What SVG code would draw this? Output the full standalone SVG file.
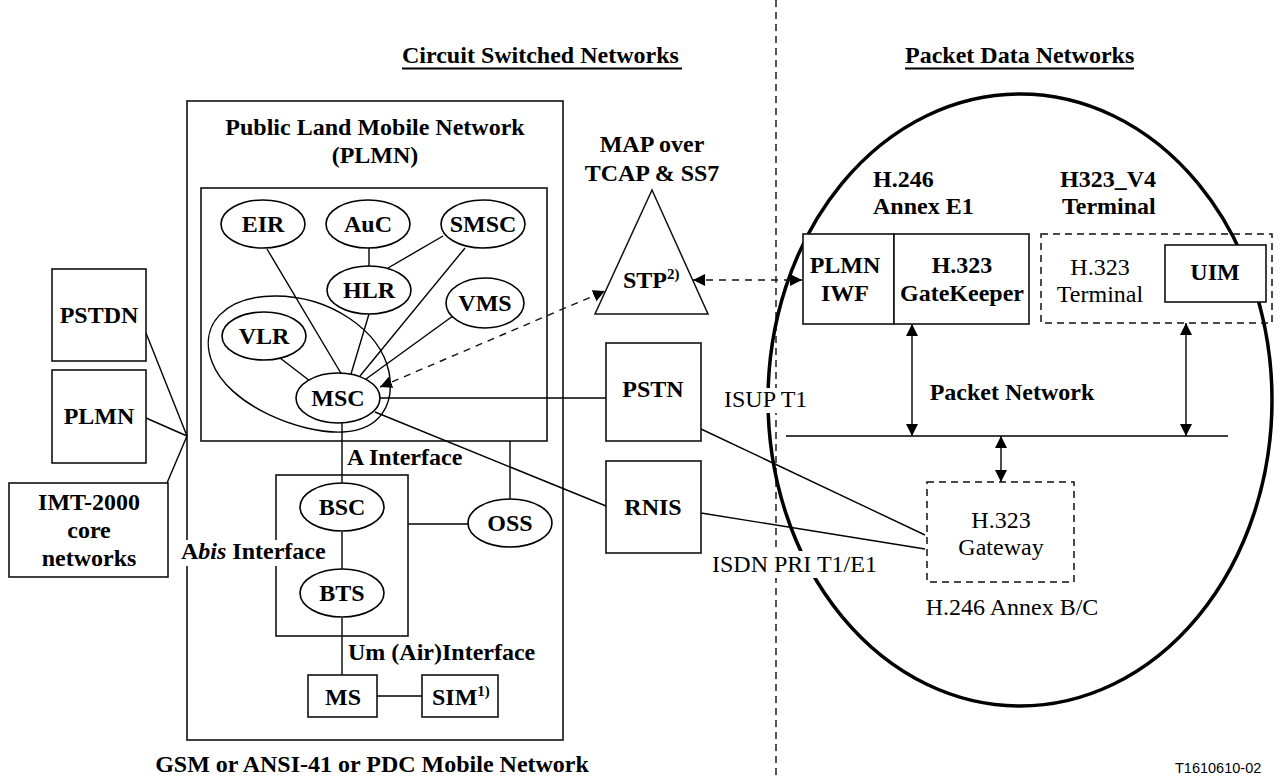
<svg xmlns="http://www.w3.org/2000/svg" width="1282" height="780" viewBox="0 0 1282 780">
<style>
text{font-family:"Liberation Serif","Times New Roman",serif;font-size:24px;fill:#000}
.b{font-weight:bold}
.m{text-anchor:middle}
.box{fill:none;stroke:#111;stroke-width:1.6}
.wbox{fill:#fff;stroke:#111;stroke-width:1.6}
.dbox{fill:none;stroke:#111;stroke-width:1.5;stroke-dasharray:7 5}
.ln{fill:none;stroke:#000;stroke-width:1.4}
.dl{fill:none;stroke:#111;stroke-width:1.4;stroke-dasharray:7 6}
.el{fill:#fff;stroke:#000;stroke-width:1.6}
</style>
<defs>
<marker id="ah" viewBox="0 0 12 12" refX="12" refY="6" markerWidth="12" markerHeight="12" markerUnits="userSpaceOnUse" orient="auto-start-reverse">
<path d="M0,0 L12,6 L0,12 Z" fill="#000"/>
</marker>
</defs>
<rect width="1282" height="780" fill="#fff"/>

<line x1="776" y1="0" x2="776" y2="780" stroke="#555" stroke-width="2" stroke-dasharray="7 5"/>

<text class="b" x="402" y="63">Circuit Switched Networks</text>
<line x1="402" y1="68.5" x2="682" y2="68.5" stroke="#000" stroke-width="2"/>
<text class="b" x="905" y="63">Packet Data Networks</text>
<line x1="905" y1="68.5" x2="1134" y2="68.5" stroke="#000" stroke-width="2"/>

<ellipse id="packet-cloud" cx="1020" cy="400" rx="252" ry="306" fill="none" stroke="#000" stroke-width="3.5"/>

<g id="plmn-outer">
<rect class="box" x="187" y="101" width="376" height="639"/>
<text class="b m" x="375" y="135">Public Land Mobile Network</text>
<text class="b m" x="375" y="163">(PLMN)</text>
</g>
<g id="core-box"><rect class="box" x="201" y="188" width="346" height="253"/></g>

<g id="connectors">
<line class="ln" x1="267" y1="249" x2="342" y2="375"/>
<line class="ln" x1="369" y1="248" x2="369" y2="266"/>
<line class="ln" x1="443" y1="236" x2="388" y2="268"/>
<line class="ln" x1="465" y1="248" x2="360" y2="376"/>
<line class="ln" x1="369" y1="314" x2="351" y2="374"/>
<line class="ln" x1="457" y1="313" x2="366" y2="379"/>
<line class="ln" x1="280" y1="358" x2="310" y2="381"/>
<path class="ln" d="M343 432 C300 434 228 405 212 362 C198 325 225 296 275 296 C330 296 380 330 389 372 C395 405 380 430 343 432 Z"/>
<line class="ln" x1="379" y1="398" x2="606" y2="398"/>
<line class="ln" x1="375" y1="412" x2="606" y2="506"/>
<line class="ln" x1="342" y1="423" x2="342" y2="483"/>
<line class="ln" x1="342" y1="532" x2="342" y2="569"/>
<line class="ln" x1="342" y1="618" x2="342" y2="675"/>
<line class="ln" x1="377" y1="696" x2="422" y2="696"/>
<line class="ln" x1="408" y1="524" x2="468" y2="524"/>
<line class="ln" x1="510" y1="441" x2="510" y2="499"/>
<line class="ln" x1="146" y1="333" x2="187" y2="436"/>
<line class="ln" x1="146" y1="418" x2="187" y2="436"/>
<line class="ln" x1="167" y1="483" x2="187" y2="436"/>
<line class="ln" x1="701" y1="429" x2="925" y2="535"/>
<line class="ln" x1="701" y1="513" x2="925" y2="549"/>
<line class="dl" x1="380" y1="387" x2="605" y2="291" marker-start="url(#ah)" marker-end="url(#ah)"/>
<line class="dl" x1="693" y1="280" x2="802" y2="280" marker-start="url(#ah)" marker-end="url(#ah)"/>
<line class="ln" x1="786" y1="436" x2="1228" y2="436"/>
<line class="ln" x1="912" y1="324" x2="912" y2="436" marker-start="url(#ah)" marker-end="url(#ah)"/>
<line class="ln" x1="1186" y1="323" x2="1186" y2="436" marker-start="url(#ah)" marker-end="url(#ah)"/>
<line class="ln" x1="1001" y1="436" x2="1001" y2="482" marker-start="url(#ah)" marker-end="url(#ah)"/>
</g>

<g id="eir"><ellipse class="el" cx="263" cy="224" rx="42" ry="24"/><text class="b m" x="263" y="232">EIR</text></g>
<g id="auc"><ellipse class="el" cx="368" cy="224" rx="42" ry="24"/><text class="b m" x="368" y="232">AuC</text></g>
<g id="smsc"><ellipse class="el" cx="483" cy="224" rx="42" ry="24"/><text class="b m" x="483" y="232">SMSC</text></g>
<g id="hlr"><ellipse class="el" cx="369" cy="290" rx="42" ry="24"/><text class="b m" x="369" y="298">HLR</text></g>
<g id="vms"><ellipse class="el" cx="485" cy="303" rx="39" ry="25"/><text class="b m" x="485" y="311">VMS</text></g>
<g id="vlr"><ellipse class="el" cx="264" cy="336" rx="42" ry="24"/><text class="b m" x="264" y="344">VLR</text></g>
<g id="msc"><ellipse class="el" cx="338" cy="398" rx="42" ry="25"/><text class="b m" x="338" y="406">MSC</text></g>

<text class="b" x="347" y="465">A Interface</text>

<g id="bss"><rect class="box" x="276" y="475" width="132" height="161"/></g>
<g id="bsc"><ellipse class="el" cx="342" cy="507" rx="42" ry="24"/><text class="b m" x="342" y="515">BSC</text></g>
<g id="bts"><ellipse class="el" cx="342" cy="593" rx="42" ry="24"/><text class="b m" x="342" y="601">BTS</text></g>
<g id="oss"><ellipse class="el" cx="510" cy="523" rx="42" ry="24"/><text class="b m" x="510" y="531">OSS</text></g>

<g id="abis-label">
<rect x="180" y="540" width="146" height="26" fill="#fff"/>
<text class="b" x="181" y="559">A<tspan font-style="italic">bis</tspan> Interface</text>
</g>

<text class="b" x="348" y="660">Um (Air)Interface</text>
<g id="ms"><rect class="wbox" x="308" y="675" width="69" height="42"/><text class="b m" x="343" y="705">MS</text></g>
<g id="sim"><rect class="wbox" x="422" y="675" width="76" height="42"/><text class="b" x="432" y="705">SIM<tspan font-size="15" dy="-9">1)</tspan></text></g>

<text class="b m" x="372" y="772">GSM or ANSI-41 or PDC Mobile Network</text>

<g id="pstdn"><rect class="wbox" x="52" y="269" width="94" height="92"/><text class="b m" x="99" y="323">PSTDN</text></g>
<g id="plmn-ext"><rect class="wbox" x="52" y="370" width="94" height="93"/><text class="b m" x="99" y="424">PLMN</text></g>
<g id="imt2000"><rect class="wbox" x="9" y="483" width="159" height="94"/>
<text class="b m" x="89" y="510">IMT-2000</text><text class="b m" x="89" y="538">core</text><text class="b m" x="89" y="566">networks</text></g>

<g id="stp">
<text class="b m" x="652" y="152">MAP over</text>
<text class="b m" x="652" y="181">TCAP &amp; SS7</text>
<polygon points="652,190 708,314 595,314" fill="#fff" stroke="#111" stroke-width="1.5"/>
<text class="b" x="623" y="288">STP<tspan font-size="15" dy="-9">2)</tspan></text>
</g>

<g id="pstn"><rect class="wbox" x="606" y="343" width="95" height="98"/><text class="b m" x="653" y="397">PSTN</text></g>
<g id="rnis"><rect class="wbox" x="606" y="461" width="95" height="92"/><text class="b m" x="653" y="515">RNIS</text></g>

<g id="isup-label"><rect x="722" y="388" width="88" height="25" fill="#fff"/><text x="724" y="407">ISUP T1</text></g>
<g id="isdn-label"><rect x="710" y="551" width="166" height="27" fill="#fff"/><text x="712" y="572">ISDN PRI T1/E1</text></g>

<text class="b" x="873" y="187">H.246</text>
<text class="b" x="873" y="214">Annex E1</text>
<text class="b" x="1060" y="187">H323_V4</text>
<text class="b" x="1062" y="214">Terminal</text>

<g id="plmn-iwf"><rect class="wbox" x="803" y="234" width="91" height="90"/><text class="b m" x="845" y="273">PLMN</text><text class="b m" x="845" y="301">IWF</text></g>
<g id="gatekeeper"><rect class="wbox" x="894" y="234" width="135" height="90"/><text class="b m" x="962" y="273">H.323</text><text class="b m" x="962" y="301">GateKeeper</text></g>

<g id="h323-terminal"><rect class="dbox" x="1041" y="234" width="231" height="89"/>
<text class="m" x="1100" y="275">H.323</text><text class="m" x="1100" y="302">Terminal</text></g>
<g id="uim"><rect class="wbox" x="1165" y="245" width="101" height="57"/><text class="b m" x="1215" y="280">UIM</text></g>

<text class="b m" x="1012" y="400">Packet Network</text>

<g id="gateway"><rect class="dbox" x="927" y="482" width="147" height="100"/>
<text class="m" x="1001" y="528">H.323</text><text class="m" x="1001" y="555">Gateway</text></g>
<text class="m" x="1012" y="615">H.246 Annex B/C</text>

<text x="1175" y="773" style="font-family:'Liberation Sans',Arial,sans-serif;font-size:14.5px">T1610610-02</text>
</svg>
